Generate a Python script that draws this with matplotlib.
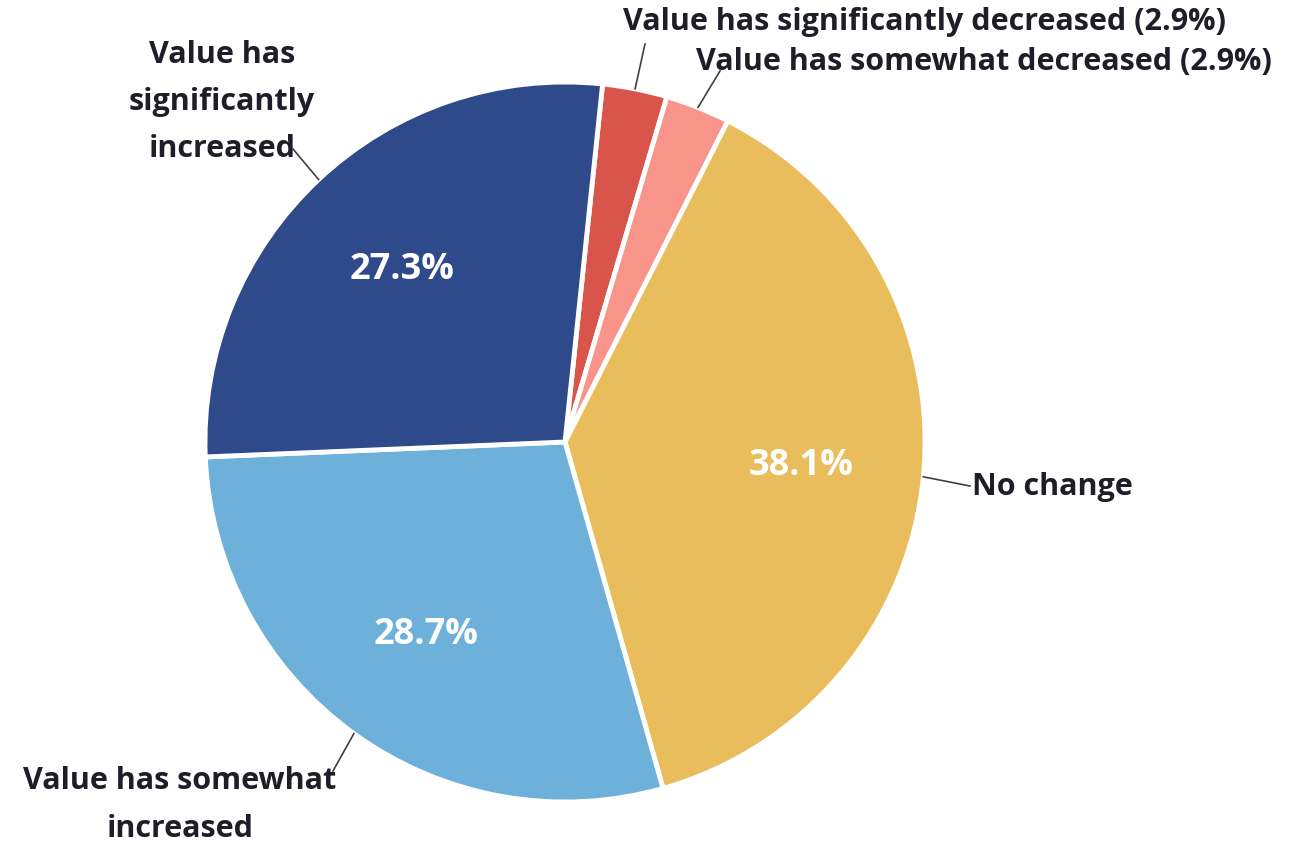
import numpy as np
import matplotlib.pyplot as plt

labels = ["Value has significantly decreased (2.9%)",
          "Value has somewhat decreased (2.9%)",
          "No change",
          "Value has somewhat increased",
          "Value has significantly increased"]
shares = [2.9, 2.9, 38.1, 28.7, 27.3]
colors = ["#D9554B", "#F8948A", "#E9BD5B", "#6DB1DB", "#2F4A8A"]
explode = [0, 0, 0.035, 0, 0]

# label text anchors (px, from top-left) and where the leader line meets the text
label_pos = [(925, 22), (984, 62), (972, 487), (180, 805), (222, 102)]
line_end = [(645, 45), (720, 72), (970, 487), (333, 772), (293, 150)]
label_text = ["Value has significantly decreased (2.9%)",
              "Value has somewhat decreased (2.9%)",
              "No change",
              "Value has somewhat\nincreased",
              "Value has\nsignificantly\nincreased"]
label_ha = ["center", "center", "left", "center", "center"]

W, H = 1303, 845
fig = plt.figure(figsize=(W / 100, H / 100), dpi=100)
ax = fig.add_axes([0, 0, 1, 1])
ax.set_xlim(0, W)
ax.set_ylim(0, H)
ax.set_aspect("equal")
ax.axis("off")

cx, cy, R = 565, H - 443, 360
wedges, _ = ax.pie(shares, colors=colors, explode=explode, startangle=84,
                   counterclock=False, center=(cx, cy), radius=R,
                   wedgeprops=dict(edgecolor="white", linewidth=3.5))
ax.set_xlim(0, W)
ax.set_ylim(0, H)

font = ["Open Sans", "DejaVu Sans"]

# percentage labels inside the three big slices
for i in (2, 3, 4):
    w = wedges[i]
    mid = np.deg2rad((w.theta1 + w.theta2) / 2)
    wx, wy = w.center
    r = 0.66 * R
    ax.text(wx + r * np.cos(mid), wy + r * np.sin(mid), f"{shares[i]}%",
            color="white", fontsize=26, fontweight="bold", family=font,
            ha="center", va="center")

for i, w in enumerate(wedges):
    mid = np.deg2rad((w.theta1 + w.theta2) / 2)
    wx, wy = w.center
    px, py = wx + R * np.cos(mid), wy + R * np.sin(mid)
    ex, ey = line_end[i]
    ax.plot([px, ex], [py, H - ey], color="#404040", lw=1.2)
    tx, ty = label_pos[i]
    ax.text(tx, H - ty, label_text[i], color="#1E1E28", fontsize=22,
            fontweight="bold", family=font, ha=label_ha[i], va="center",
            multialignment="center", linespacing=1.75)

fig.savefig("out.png", dpi=100)
